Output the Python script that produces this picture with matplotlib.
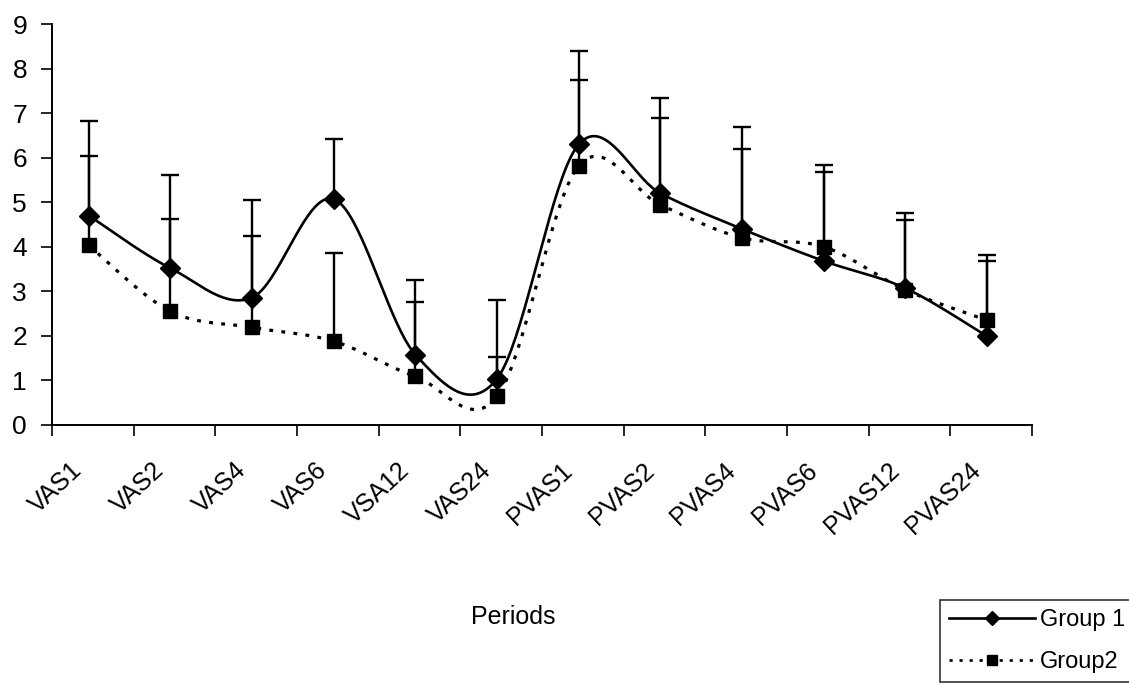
import numpy as np
import matplotlib
matplotlib.use("Agg")
import matplotlib.pyplot as plt
from matplotlib.ticker import FixedLocator, NullFormatter
from matplotlib.transforms import ScaledTranslation

categories = ["VAS1", "VAS2", "VAS4", "VAS6", "VSA12", "VAS24",
              "PVAS1", "PVAS2", "PVAS4", "PVAS6", "PVAS12", "PVAS24"]
group1_mean = [4.70, 3.52, 2.86, 5.07, 1.58, 1.04, 6.30, 5.20, 4.40, 3.68, 3.07, 1.99]
group2_mean = [4.03, 2.55, 2.19, 1.88, 1.09, 0.64, 5.82, 4.94, 4.20, 4.00, 3.03, 2.35]
group1_sd = [2.13, 2.10, 2.19, 1.35, 1.67, 1.76, 2.09, 2.15, 2.28, 2.16, 1.69, 1.83]
group2_sd = [2.01, 2.08, 2.05, 1.98, 1.67, 0.89, 1.92, 1.94, 1.99, 1.68, 1.57, 1.34]
yticks = list(range(0, 10))

plt.rcParams['font.family'] = ['Liberation Sans', 'DejaVu Sans']


def smooth_curve(x, y, n=40):
    """Catmull-Rom style smoothing like a spreadsheet 'smoothed line'."""
    x = np.asarray(x, float)
    y = np.asarray(y, float)
    pts = np.column_stack([x, y])
    out = []
    for i in range(len(pts) - 1):
        p0 = pts[i - 1] if i > 0 else pts[i]
        p1 = pts[i]
        p2 = pts[i + 1]
        p3 = pts[i + 2] if i + 2 < len(pts) else pts[i + 1]
        c1 = p1 + (p2 - p0) / 6.0
        c2 = p2 - (p3 - p1) / 6.0
        t = np.linspace(0, 1, n)[:, None]
        seg = ((1 - t) ** 3) * p1 + 3 * ((1 - t) ** 2) * t * c1 + 3 * (1 - t) * t ** 2 * c2 + t ** 3 * p2
        out.append(seg if i == 0 else seg[1:])
    s = np.vstack(out)
    return s[:, 0], s[:, 1]


fig = plt.figure(figsize=(11.29, 6.84), dpi=100)
ax = fig.add_axes([52 / 1129, 1 - 425 / 684, (1032 - 52) / 1129, (425 - 24) / 684])

x = np.arange(len(categories))

# error bars (upper only)
for mean, sd in ((group1_mean, group1_sd), (group2_mean, group2_sd)):
    eb = ax.errorbar(x, mean, yerr=[np.zeros(len(mean)), sd], fmt='none',
                     ecolor='black', elinewidth=1.7, capsize=6.5, capthick=1.7, zorder=2)
    for cl in eb[1]:
        if np.allclose(cl.get_ydata(), mean):
            cl.set_visible(False)

sx1, sy1 = smooth_curve(x, group1_mean)
sx2, sy2 = smooth_curve(x, group2_mean)
ax.plot(sx1, sy1, color='black', lw=1.9, zorder=3)
ax.plot(sx2, sy2, color='black', lw=2.3, linestyle=(0, (1.2, 2.6)), zorder=3)
ax.plot(x, group1_mean, linestyle='none', marker='D', ms=10, color='black', zorder=4)
ax.plot(x, group2_mean, linestyle='none', marker='s', ms=9.5, color='black', zorder=4)

# legend proxies
h1, = ax.plot([], [], color='black', lw=1.9, marker='D', ms=7, label='Group 1')
h2, = ax.plot([], [], color='black', lw=1.9, linestyle=(0, (1.2, 2.6)), marker='s', ms=7, label='Group2')

ax.set_xlim(-0.45, 11.55)
ax.set_ylim(0, 9)
ax.set_yticks(yticks)
ax.set_yticklabels([str(v) for v in yticks], fontsize=19)

ax.xaxis.set_major_locator(FixedLocator(np.arange(-0.45, 12, 1.0)))
ax.xaxis.set_major_formatter(NullFormatter())
ax.tick_params(axis='x', which='major', length=8, width=1.2, direction='out')
ax.tick_params(axis='y', length=8, width=1.2, direction='out', pad=10)

# category labels, rotated, anchored below each category
lbl_tr = ax.get_xaxis_transform() + ScaledTranslation(-18 / 100, -33 / 100, fig.dpi_scale_trans)
for xi, name in zip(x, categories):
    ax.text(xi, 0, name, transform=lbl_tr, rotation=43, rotation_mode='anchor',
            ha='right', va='top', fontsize=18, clip_on=False)

for s in ('top', 'right'):
    ax.spines[s].set_visible(False)
for s in ('left', 'bottom'):
    ax.spines[s].set_linewidth(1.4)

fig.text(513 / 1129, 1 - 617 / 684, "Periods", fontsize=18, ha='center', va='center')

leg = fig.legend(handles=[h1, h2], loc='upper left',
                 bbox_to_anchor=(940 / 1129, 1 - 600 / 684),
                 fontsize=17, frameon=True, fancybox=False, edgecolor='black',
                 handlelength=3.65, handletextpad=0.2, borderpad=0.38, labelspacing=0.85,
                 borderaxespad=0)
leg.get_frame().set_linewidth(1.2)

fig.savefig("out.png", dpi=100, facecolor='white')
